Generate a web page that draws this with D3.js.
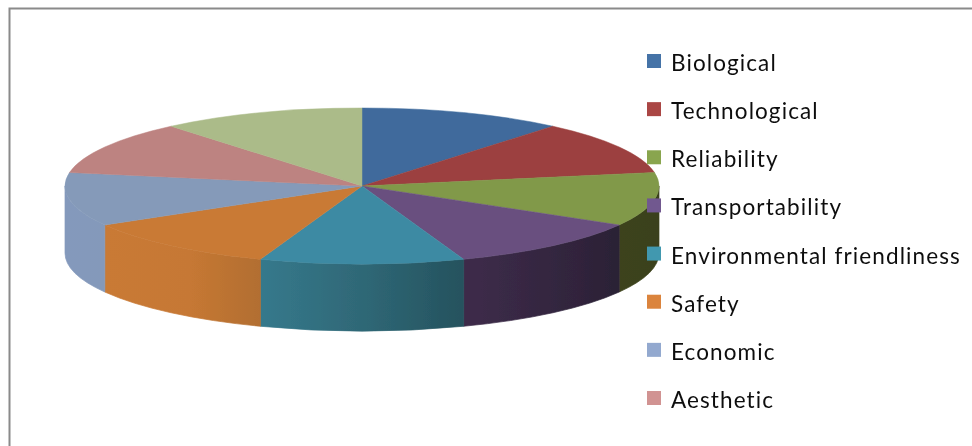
<!DOCTYPE html>
<html><head><meta charset="utf-8">
<script src="https://cdnjs.cloudflare.com/ajax/libs/d3/7.8.5/d3.min.js"></script>
<style>html,body{margin:0;padding:0;background:#fff}svg{display:block}</style>
</head><body><div id="c"></div>
<script>
// Data: nine equal slices, eight legend entries
const legendCategories = ["Biological","Technological","Reliability","Transportability","Environmental friendliness","Safety","Economic","Aesthetic"];
const sliceCategories = ["Biological","Technological","Reliability","Transportability","Environmental friendliness","Safety","Economic","Aesthetic","(unlabelled)"];
const sliceValues = [1,1,1,1,1,1,1,1,1];
const topColors = ["#3f6b9c","#9c403f","#81994a","#69507f","#3e8aa3","#c97a36","#859ab9","#bd8381","#abbb89"];
const legendColors = ["#4573a7","#aa4644","#89a54e","#71588f","#4198af","#db843d","#93a9cf","#d19392"];
const wallLeftColors = ["#3f6b9c","#9c403f","#3c431c","#3e2c4a","#36798c","#c97a36","#8499bc","#bd8381","#abbb89"];
const wallMidColors = ["#3f6b9c","#9c403f","#3b421b","#342640","#2e6674","#c67834","#8499bb","#bd8381","#abbb89"];
const wallRightColors = ["#3f6b9c","#9c403f","#3a411a","#2b2135","#25525e","#b26e30","#8499ba","#bd8381","#abbb89"];

const W = 972, H = 446;
const cx = 362, cy = 186, rx = 297, ry = 78, depth = 67;

const svg = d3.select("#c").append("svg").attr("width", W).attr("height", H);
const defs = svg.append("defs");
defs.append("filter").attr("id","soft").attr("x","-5%").attr("y","-5%").attr("width","110%").attr("height","110%")
  .append("feGaussianBlur").attr("stdDeviation",0.6);
defs.append("filter").attr("id","softText").attr("x","-5%").attr("y","-20%").attr("width","110%").attr("height","140%")
  .append("feGaussianBlur").attr("stdDeviation",0.3);

// frame
svg.append("path").attr("d",`M9.5,${H} V8.5 H${W}`).attr("fill","none").attr("stroke","#8a8a8a").attr("stroke-width",2);

const pie = d3.pie().sort(null).value(d => d)(sliceValues);
const arc = d3.arc().innerRadius(0).outerRadius(rx);
const colorTop = d3.scaleOrdinal().domain(sliceCategories).range(topColors);
const colorL = d3.scaleOrdinal().domain(sliceCategories).range(wallLeftColors);
const colorM = d3.scaleOrdinal().domain(sliceCategories).range(wallMidColors);
const colorR = d3.scaleOrdinal().domain(sliceCategories).range(wallRightColors);

const px = a => cx + rx * Math.sin(a), py = a => cy - ry * Math.cos(a);
const g = svg.append("g").attr("filter","url(#soft)");

// side walls: only the part of each slice facing the viewer (PI/2 .. 3PI/2)
const walls = pie.map((d,i) => ({
  name: sliceCategories[i], i,
  a0: Math.max(d.startAngle, Math.PI/2),
  a1: Math.min(d.endAngle, 3*Math.PI/2)
})).filter(d => d.a1 > d.a0);

walls.forEach(d => {
  const xs = [px(d.a0), px(d.a1)];
  const lg = defs.append("linearGradient").attr("id","wall"+d.i).attr("gradientUnits","userSpaceOnUse")
    .attr("x1",d3.min(xs)).attr("x2",d3.max(xs)).attr("y1",0).attr("y2",0);
  lg.append("stop").attr("offset",0).attr("stop-color",colorL(d.name));
  lg.append("stop").attr("offset",0.55).attr("stop-color",colorM(d.name));
  lg.append("stop").attr("offset",1).attr("stop-color",colorR(d.name));
});

g.selectAll("path.wall").data(walls).join("path").attr("class","wall")
  .attr("fill", d => `url(#wall${d.i})`)
  .attr("stroke", d => `url(#wall${d.i})`).attr("stroke-width",0.7)
  .attr("d", d => `M${px(d.a0)},${py(d.a0)}`
    + `L${px(d.a0)},${py(d.a0)+depth}`
    + `A${rx},${ry} 0 0 1 ${px(d.a1)},${py(d.a1)+depth}`
    + `L${px(d.a1)},${py(d.a1)}`
    + `A${rx},${ry} 0 0 0 ${px(d.a0)},${py(d.a0)}Z`);

// top face
g.append("g").attr("transform",`translate(${cx},${cy}) scale(1,${ry/rx})`)
  .selectAll("path").data(pie).join("path")
  .attr("d", arc)
  .attr("fill", (d,i) => colorTop(sliceCategories[i]))
  .attr("stroke", (d,i) => colorTop(sliceCategories[i]))
  .attr("stroke-width",0.5).attr("vector-effect","non-scaling-stroke");

// legend
const yLegend = d3.scalePoint().domain(legendCategories).range([61, 398]);
const colorLegend = d3.scaleOrdinal().domain(legendCategories).range(legendColors);
const lg = svg.append("g").selectAll("g").data(legendCategories).join("g")
  .attr("transform", d => `translate(647,${yLegend(d)})`);
lg.append("rect").attr("x",0).attr("y",-7).attr("width",14).attr("height",14).attr("fill",d=>colorLegend(d));
lg.append("text").attr("x",24).attr("y",10).attr("filter","url(#softText)")
  .attr("font-family","Lato, 'Open Sans', sans-serif").attr("font-size",22.5)
  .attr("letter-spacing",1.1).attr("fill","#111").text(d=>d);
</script></body></html>
